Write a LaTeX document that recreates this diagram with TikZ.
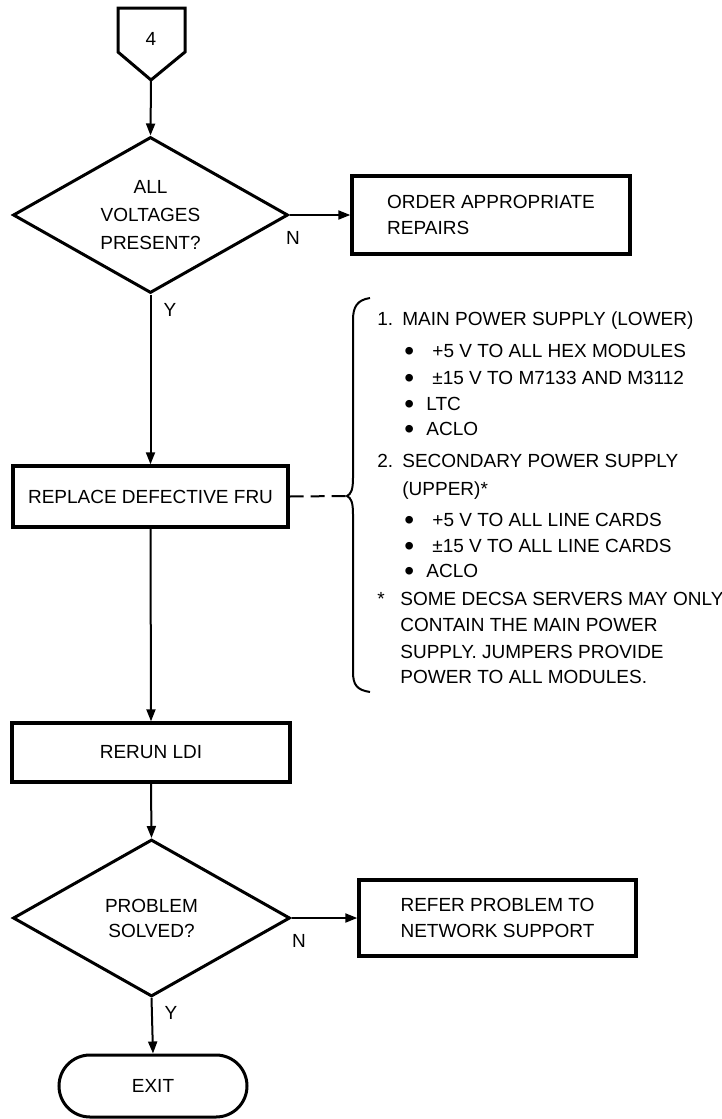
\documentclass[tikz,border=0pt]{standalone}
\usepackage{fontspec}
\setmainfont{Liberation Sans}
\usepackage{tikz}
\usetikzlibrary{shapes}
\usetikzlibrary{positioning}
\usetikzlibrary{arrows.meta}

\tikzset{
  stepbox/.style={draw, rectangle, line width=1.7pt, inner sep=0pt},
  decision/.style={draw, diamond, aspect=1.76, line width=1.5pt, inner sep=0pt, align=center},
  flow/.style={->, line width=1pt},
  note/.style={anchor=base west, inner sep=0pt},
}
\newcommand{\listmark}[2]{\makebox[#1][l]{#2}}
\newcommand{\dotmark}{\raisebox{-1.5pt}{\fontsize{14}{13}\selectfont\textbullet}}

\begin{document}
\begin{tikzpicture}[x=0.5pt, y=-0.5pt, font=\fontsize{9.5}{13}\selectfont, >={Triangle[length=6pt,width=4.5pt]}]
\useasboundingbox (0,0) rectangle (722,1119);

% off page connector
\draw[line width=1.5pt] (118,8) -- (185,8) -- (185,52) -- (151,80) -- (118,52) -- cycle;
\node (page4) at (151,39) {4};
\coordinate (page4tip) at (151,80);

\node[decision, minimum width=137.5pt, minimum height=78pt, font=\fontsize{9.5}{14}\selectfont] (voltages) at (150.5,215) {ALL\\VOLTAGES\\PRESENT?};
\node[stepbox, minimum width=139pt, minimum height=39pt, align=left] (repairs) at (491,215) {ORDER APPROPRIATE\\REPAIRS};
\node[stepbox, minimum width=137.5pt, minimum height=30.5pt] (replace) at (150.5,496.5) {REPLACE DEFECTIVE FRU};
\node[stepbox, minimum width=139pt, minimum height=29.5pt] (rerun) at (151,752.5) {RERUN LDI};
\node[decision, minimum width=138.5pt, minimum height=78.5pt, font=\fontsize{9.5}{12.5}\selectfont] (solved) at (151.5,918) {PROBLEM\\SOLVED?};
\node[stepbox, minimum width=138.5pt, minimum height=38pt, align=left] (network) at (497.5,918) {REFER PROBLEM TO\\NETWORK SUPPORT};
\node[stepbox, rounded corners=15.5pt, line width=1.5pt, minimum width=94pt, minimum height=31pt] (exit) at (153,1086) {EXIT};

\node (n1) at (293,238) {N};
\node (y1) at (170,310) {Y};
\node (n2) at (299,941) {N};
\node (y2) at (171,1013) {Y};

\draw[flow] (page4tip) -- (voltages.north);
\draw[flow] (voltages.east) -- (repairs.west);
\draw[flow] (voltages.south) -- (replace.north);
\draw[flow] (replace.south) -- (rerun.north);
\draw[flow] (rerun.south) -- (solved.north);
\draw[flow] (solved.east) -- (network.west);
\draw[flow] (solved.south) -- (exit.north);

% brace with the list of supplies
\coordinate (bracetip) at (347,496);
\draw[line width=1pt, dash pattern=on 7pt off 3.5pt] (replace.east) -- (bracetip);
\draw[line width=1pt] (370,298) .. controls (357,300) and (353,307) .. (353,320) -- (353,478)
  .. controls (353,490) and (351,494) .. (bracetip) .. controls (351,498) and (353,502) .. (353,514)
  -- (353,672) .. controls (353,685) and (357,690) .. (370,692);

\node[note] (main) at (377,325) {\listmark{12.5pt}{1.}MAIN POWER SUPPLY (LOWER)};
\node[note] (hex) at (404,357) {\listmark{14pt}{\dotmark}+5 V TO ALL HEX MODULES};
\node[note] (m7133) at (404,384) {\listmark{14pt}{\dotmark}±15 V TO M7133 AND M3112};
\node[note] (ltc) at (404,410) {\listmark{11pt}{\dotmark}LTC};
\node[note] (aclo1) at (404,435) {\listmark{11pt}{\dotmark}ACLO};
\node[note] (second) at (377,467) {\listmark{12.5pt}{2.}SECONDARY POWER SUPPLY};
\node[note] (upper) at (402,495) {(UPPER)*};
\node[note] (cards5) at (404,526) {\listmark{14pt}{\dotmark}+5 V TO ALL LINE CARDS};
\node[note] (cards15) at (404,552) {\listmark{14pt}{\dotmark}±15 V TO ALL LINE CARDS};
\node[note] (aclo2) at (404,577) {\listmark{11pt}{\dotmark}ACLO};
\node[note] (star) at (377,605) {\listmark{11.5pt}{*}SOME DECSA SERVERS MAY ONLY};
\node[note] (contain) at (400,631) {CONTAIN THE MAIN POWER};
\node[note] (jumpers) at (400,658) {SUPPLY. JUMPERS PROVIDE};
\node[note] (modules) at (400,683) {POWER TO ALL MODULES.};
\end{tikzpicture}
\end{document}
